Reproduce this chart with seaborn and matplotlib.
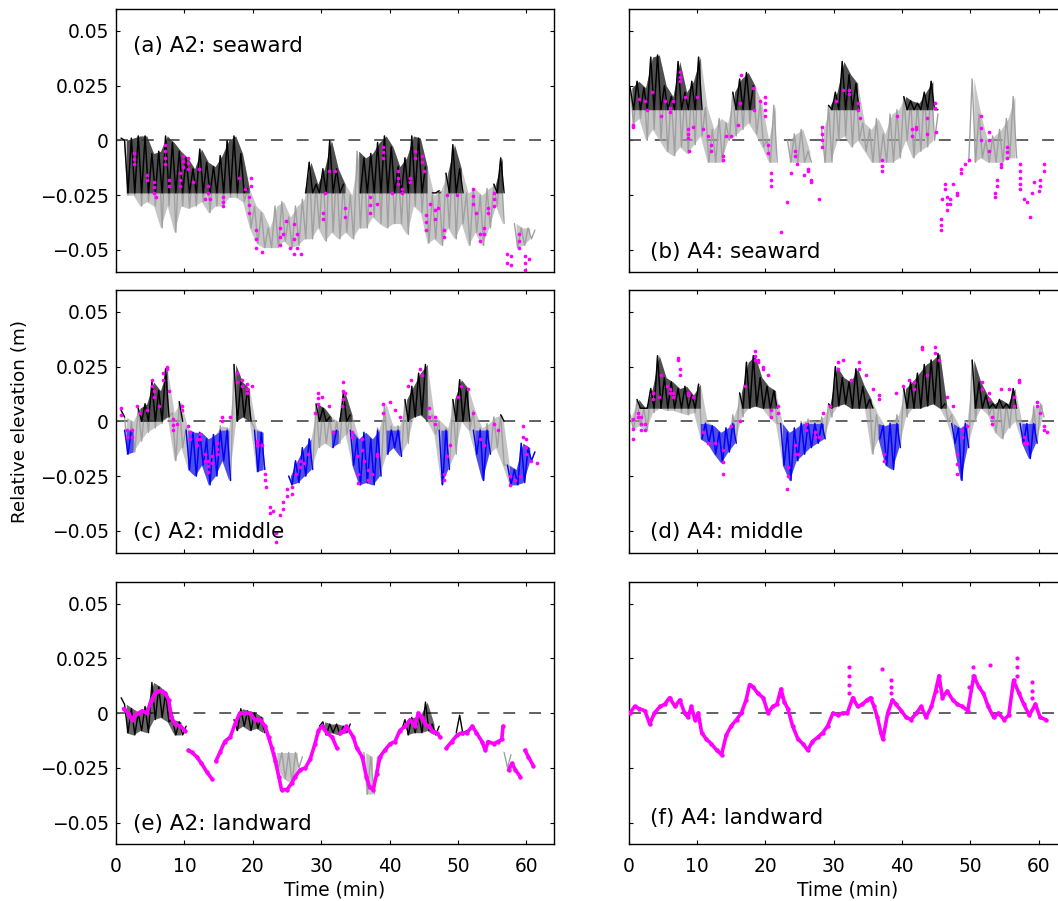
import numpy as np
import pandas as pd
import matplotlib
matplotlib.use("Agg")
import matplotlib.pyplot as plt
import seaborn as sns

nan = np.nan

# ---------------- data (elevations in mm, time in min) ----------------
# each series: per-minute [high, low] readings of the noisy record, minute 0..61
a_series = [[nan, 1], [0, -25], [1, -25], [2, -30], [2, -28], [-6, -30], [-5, -40], [2, -30],
            [-1, -42], [-5, -30], [-8, -31], [-13, -30], [-4, -28], [-10, -33], [-12, -30], [-7, -30],
            [0, -26], [2, -26], [-6, -28], [-22, -40], [-30, -47], [-33, -49], [-40, -49], [-30, -49],
            [-28, -46], [-35, -49], [-30, -48], [-27, -45], [-10, -45], [-20, -40], [-13, -46], [0, -42],
            [-13, -45], [-20, -42], [-25, -45], [-5, -40], [-8, -40], [-6, -35], [-1, -38], [2, -40],
            [-3, -38], [-12, -38], [-8, -43], [2, -30], [1, -33], [-12, -47], [-25, -45], [-23, -48],
            [-15, -40], [-2, -45], [-13, -38], [-24, -48], [-22, -42], [-25, -48], [-22, -40], [-20, -30],
            [-8, -38], [nan, nan], [-38, -49], [-40, -48], [-40, -45], [-41, nan]]
a_black_ranges = [(0.7, 19.3), (27.7, 33.6), (35.5, 45.3), (46.0, 47.3), (48.0, 51.0), (55.0, 57.0)]
a_black_floor = -24

b_series = [[24, 7], [27, 10], [24, 0], [38, 5], [39, 0], [25, -5], [20, -7], [36, -3],
            [22, -6], [27, -2], [38, 2], [15, -10], [5, -10], [10, -10], [8, 0], [22, 2],
            [28, 5], [31, 8], [25, 3], [17, -3], [0, -10], [16, -10], [nan, nan], [0, -10],
            [3, -10], [5, -10], [-5, -10], [nan, nan], [5, -10], [16, -10], [22, 0], [36, 2],
            [30, -3], [26, 0], [8, -5], [5, -10], [10, -10], [3, -10], [12, -10], [14, -8],
            [20, 0], [18, -8], [17, -5], [22, -3], [27, 0], [12, nan], [nan, nan], [nan, nan],
            [nan, nan], [nan, -10], [28, -10], [12, -8], [0, -10], [2, -10], [5, -10], [10, -8],
            [20, -8], [nan, nan], [nan, nan], [nan, nan], [nan, nan], [nan, nan]]
b_black_ranges = [(0.0, 10.9), (15.0, 18.6), (29.0, 34.0), (40.0, 45.3), (50.0, 50.5), (56.0, 56.5)]
b_black_floor = 14

c_series = [[nan, 5], [2, -15], [0, -14], [6, -9], [8, -5], [18, -3], [14, -1], [24, 2],
            [4, -18], [9, -12], [-3, -22], [-5, -25], [-5, -20], [-8, -29], [-6, -25], [-2, -18],
            [-3, -27], [26, 0], [18, 2], [15, 0], [-3, -23], [-5, -22], [nan, nan], [nan, nan],
            [nan, nan], [-25, -29], [-18, -28], [-12, -25], [-8, -22], [8, -12], [6, -10], [2, -12],
            [0, -10], [13, -6], [3, -20], [-8, -29], [-5, -28], [-8, -29], [-3, -25], [8, -15],
            [-2, -12], [-2, -16], [10, -10], [16, 2], [22, 3], [26, 0], [3, -6], [0, -29],
            [-3, -22], [10, -15], [19, 0], [15, -4], [5, -15], [-3, -27], [-1, -15], [2, -12],
            [3, -20], [-20, -29], [-22, -29], [-10, -28], [-12, -18], [-14, nan]]
c_black_ranges = [(0.5, 1.3), (2.8, 8.0), (8.8, 10.0), (16.9, 20.0), (28.9, 31.5), (32.5, 34.3),
                  (38.8, 39.6), (42.0, 45.5), (49.0, 52.0), (55.8, 57.0)]
c_black_floor = 0
c_blue_ranges = [(1.2, 2.5), (10.0, 16.8), (20.0, 22.0), (24.8, 29.0), (31.3, 32.5), (34.2, 38.8),
                 (39.6, 42.0), (47.0, 49.0), (52.2, 55.0), (56.8, 61.3)]
c_blue_ceiling = -4

d_series = [[3, -4], [10, -2], [6, -4], [15, 4], [30, 6], [20, 5], [18, 5], [15, 4],
            [16, 3], [12, 4], [17, -8], [0, -10], [-2, -15], [-5, -19], [-3, -14], [3, -10],
            [13, 2], [27, 6], [30, 7], [20, 6], [16, 2], [14, -1], [-1, -20], [-5, -27],
            [-3, -18], [0, -15], [1, -12], [0, -10], [2, -8], [8, 2], [25, 7], [20, 8],
            [18, 6], [24, 6], [16, 6], [10, -15], [3, -8], [-2, -20], [0, -22], [3, -12],
            [15, 2], [18, 6], [22, 6], [26, 7], [28, 8], [31, 6], [8, 0], [3, -10],
            [-3, -27], [0, -12], [28, 0], [18, 6], [12, 3], [8, -5], [10, -8], [8, -3],
            [15, 0], [0, -10], [-1, -17], [7, -10], [8, 2], [nan, nan]]
d_black_ranges = [(1.0, 10.5), (16.0, 21.9), (29.0, 35.8), (39.8, 46.3), (50.0, 57.0)]
d_black_floor = 6
d_blue_ranges = [(10.5, 15.8), (21.9, 29.0), (36.5, 39.9), (47.2, 50.0), (57.0, 59.9)]
d_blue_ceiling = -1

e_series = [[nan, 7], [4, -9], [2, -10], [0, -8], [3, -9], [14, -3], [12, -2], [9, -4],
            [-3, -10], [-4, -10], [-6, nan], [nan, nan], [nan, nan], [nan, nan], [nan, nan], [nan, nan],
            [nan, nan], [-3, -8], [2, -6], [1, -8], [0, -7], [-2, -9], [nan, nan], [-18, -25],
            [-18, -30], [-18, -32], [-18, -25], [-20, nan], [nan, nan], [nan, -6], [-4, -10], [-5, -9],
            [-5, -10], [-6, -9], [-5, nan], [nan, nan], [-18, -37], [-20, -37], [-20, nan], [nan, nan],
            [nan, nan], [nan, -8], [-3, -10], [-2, -9], [-1, -9], [5, -8], [-5, -10], [-6, nan],
            [nan, nan], [nan, -9], [-1, -10], [-8, nan], [nan, nan], [nan, nan], [nan, nan], [nan, nan],
            [nan, -18], [-25, -19], [nan, nan], [nan, nan], [nan, nan], [nan, nan]]
e_black_ranges = [(0.0, 22.5), (29.0, 35.0), (40.0, 52.0)]
e_gray_ranges = [(22.5, 29.0), (35.5, 39.5), (56.0, 59.0)]

# magenta detections (time min, elevation mm)
a_mag = [(2.6, -6), (2.6, -8.5), (2.6, -11), (4.5, -16), (4.5, -18), (5.6, -19), (5.6, -21.5), (5.6, -24),
         (5.9, -26), (7.1, -2), (7.1, -5), (7.1, -8), (7.1, -11), (7.8, -18), (7.8, -21), (9.3, -15),
         (9.3, -18), (9.3, -21), (9.8, -7), (9.8, -9.5), (9.8, -12), (10.6, -8), (10.6, -10.5), (10.6, -13),
         (11.3, -19), (12.1, -13), (13, -27), (13.5, -21), (13.5, -24), (13.8, -27), (15.7, -26), (15.7, -28),
         (15.7, -30), (18, -17), (18.9, -22), (19.4, -26), (19.4, -29.5), (19.4, -33), (19.7, -17), (19.7, -21),
         (20.5, -41), (20.5, -45), (20.5, -49), (21.4, -51), (24, -40), (24, -44), (24, -48), (24.4, -43),
         (24.9, -37), (25.5, -49), (26, -38), (26, -45), (26, -52), (26.4, -43), (26.4, -49), (27.1, -52),
         (30.2, -33), (30.2, -36), (30.6, -24), (31.1, -14), (32, -14), (33.5, -31), (33.5, -35), (37.1, -26),
         (37.1, -29.5), (37.1, -33), (38.2, -29), (39.1, -3), (39.1, -5.5), (39.1, -8), (40.3, -24), (41.3, -14),
         (41.3, -17), (41.3, -20), (41.8, -22), (41.8, -24), (43, -17), (43, -19), (43.7, -5), (43.7, -8),
         (44.7, -7), (44.7, -10), (45, -14), (45.4, -34), (45.4, -37.5), (45.4, -41), (45.9, -29), (46.6, -32),
         (46.6, -36), (47.1, -31), (47.9, -41), (47.9, -44), (48.4, -25), (49.8, -25), (52.2, -22), (52.2, -25.5),
         (52.2, -29), (52.7, -33), (53.2, -43), (53.2, -46), (53.8, -40), (53.8, -43), (54.4, -31), (54.4, -33),
         (55.2, -24), (55.2, -27), (55.2, -30), (57.1, -52), (57.1, -56), (57.8, -53), (57.8, -57), (58.9, -43),
         (58.9, -46), (58.9, -49), (59.8, -53), (59.8, -56), (59.8, -59), (60.4, -54)]
b_mag = [(0.6, 6), (0.7, 7), (1.6, 19), (2.4, 18), (2.7, 14), (3.5, 22), (4.8, 11), (5.3, 18),
         (6.1, 13), (6.1, 15), (6.5, 18), (7.5, 27), (7.5, 29), (7.5, 31), (8.2, 20), (8.7, 1),
         (8.7, 3), (8.7, 5), (8.9, -5), (9.4, 6), (10, 20), (10.9, 5), (11.6, 2), (12.1, -2),
         (12.1, -5), (13.8, -7), (13.8, -9), (14.2, 2), (15, 2), (16, 7), (16.3, 17), (16.5, 30),
         (18.2, 24), (18.4, 14), (19.2, 18), (19.9, 11), (19.9, 14), (19.9, 17), (19.9, 20), (20.4, -2),
         (20.4, -6), (20.8, -15), (20.8, -18), (20.8, -21), (22.3, -42), (23.2, -28), (23.8, -15), (24.3, -5),
         (24.3, -7), (24.6, -11), (25.7, -16), (26.2, -13), (26.2, -14), (26.7, -18), (26.7, -19), (27.8, -27),
         (28.3, 6), (28.3, 3), (28.3, 0), (28.3, -3), (30.4, 18), (31.3, 23), (32.3, 21), (32.3, 23),
         (33.6, 14), (33.6, 17), (33.8, 10), (37, -9), (37, -11.5), (37, -14), (39.2, 11), (41.4, 2),
         (41.4, 5), (42, 5), (42, 6), (43.7, 10), (43.7, 3), (44.8, 15), (44.8, 17), (45, 4),
         (45.7, -36), (45.7, -38.5), (45.7, -41), (45.9, -27), (46.3, -20), (46.3, -22), (46.6, -26), (46.6, -29),
         (46.6, -32), (47, -27), (47, -29), (47.5, -20), (48.1, -24), (48.1, -25), (48.6, -13), (48.6, -15),
         (49.2, -11), (49.8, -9), (51.6, 0), (51.6, 5.5), (51.6, 11), (52.7, -5), (52.7, 0), (52.7, 4),
         (53.6, -24), (53.6, -26), (53.9, -18), (53.9, -21), (54.5, -11), (54.5, -12), (55.4, -3), (55.4, -5.5),
         (55.4, -8), (57.3, -11), (57.3, -14), (57.3, -17), (57.3, -20), (57.3, -22), (57.8, -27), (58.3, -28),
         (58.7, -35), (59, -24), (59.3, -19), (60, -23), (60.2, -18), (60.2, -21), (60.7, -11), (60.7, -14)]
c_mag = [(0.8, 3), (0.8, 6), (1.6, -4), (1.6, -7), (2.3, -4), (2.3, -7), (3, 7), (3.5, 4),
         (4.5, 5), (5.2, 16), (5.2, 19), (5.6, 11), (5.6, 14), (6.3, 7), (6.9, 19), (6.9, 22),
         (7.4, 24), (7.4, 25), (7.8, 14), (8.3, 1), (8.3, -1.5), (8.3, -4), (8.9, -1), (9.6, 5),
         (9.6, 7), (10.6, -2), (10.8, -5), (10.8, -8), (11.8, -8), (11.8, -11), (12.3, -6), (12.3, -8),
         (13, -15), (13, -18), (13.5, -18), (13.5, -20.5), (13.5, -23), (14, -16), (14, -19), (14.7, -10),
         (14.7, -12.5), (14.7, -15), (15.5, 0), (15.5, 2), (16.7, 2), (17.7, 18), (17.7, 22), (18.4, 16),
         (18.4, 19), (19.1, 13), (19.1, 15), (19.1, 17), (19.9, 16), (20.6, -9), (20.6, -11), (21.3, -11),
         (21.8, -24), (21.8, -27), (22, -30), (22.5, -39), (22.5, -42), (23, -41), (23.4, -51), (23.4, -55),
         (24, -43), (24.4, -37), (24.4, -40), (25, -31), (25, -34), (25.7, -30), (25.7, -33), (26.3, -24),
         (26.9, -18), (26.9, -21), (27.5, -19), (28.1, -15), (29.1, 4), (29.6, 8), (29.6, 10.5), (29.6, 13),
         (30.1, 11), (31.1, 7), (31.8, -5), (33, 7), (33.5, 13), (33.2, 10), (33.2, 14), (33.2, 18),
         (34.5, -5), (34.5, -7), (35.2, -16), (35.4, -24), (35.4, -28), (35.9, -8), (35.9, -13), (36.2, -18),
         (36.9, -22), (36.9, -27), (37.4, -24), (38.1, -15), (38.1, -16), (39.1, 4), (39.1, 8), (40.1, 9),
         (40.8, 5), (41.5, 2), (42.7, 16), (43.2, 19), (44.4, 24), (44.7, 21), (45.7, 2), (45.7, 6),
         (46.6, -1), (46.6, 2), (47.9, -24), (47.9, -27), (48.4, -16), (48.8, -11), (50, 11), (50.5, 16),
         (51.5, 15), (52.2, 4), (53.2, -8), (53.8, -11), (55.2, -1), (55.9, -4), (57.6, -25), (57.6, -29),
         (58.3, -27), (59, -25), (59.5, -2), (59.5, -7), (60, -8), (60, -11.5), (60, -15), (60.7, -18),
         (61.5, -19)]
d_mag = [(0.7, 1), (0.7, -3.5), (0.7, -8), (1.4, 2), (1.4, 4), (1.9, 2), (1.9, -1), (1.9, -4),
         (2.4, -1), (2.4, -4), (3.6, 10), (3.6, 13), (4.4, 11), (4.8, 21), (5.6, 16), (6, 13),
         (6, 15), (6.5, 11), (6.5, 13), (7.3, 28), (7.3, 29), (7.5, 21), (7.5, 24), (8.7, 12),
         (8.7, 13), (9.4, 11), (10.9, -5), (11.6, -10), (12.6, -10), (13.8, -13), (13.8, -18.5), (13.8, -24),
         (15, -2), (16.3, 0), (17, 16), (18.5, 28), (18.5, 30), (18.5, 32), (18.9, 27), (18.9, 28),
         (19.7, 24), (19.7, 25), (20.4, 21), (20.9, 2), (20.9, 5), (21.8, 4), (21.8, 7), (23.3, -21),
         (23.3, -25), (23.2, -31), (24.3, -11), (24.3, -15), (24.8, -15), (26, -1), (26, -4), (27.2, -5),
         (27.2, -7), (27.9, -7), (28.4, 4), (29.4, 7), (30.6, 24), (30.6, 27), (31.3, 28), (32.5, 19),
         (33.7, 24), (33.7, 27), (34.7, 21), (35.7, 15), (36.7, 10), (36.7, 12), (37.4, -15), (37.4, -18),
         (39.1, 13), (40.1, 16), (41, 19), (41.8, 15), (41.8, 18), (42.9, 33), (42.9, 34), (43.7, 21),
         (44.8, 31), (44.8, 34), (45.4, 28), (46.6, 11), (47.4, 7), (48.1, -15), (48.1, -19.5), (48.1, -24),
         (48.8, -4), (48.8, -7), (49.5, -2), (51.7, 15), (51.7, 18), (52.7, 10), (52.7, 13), (53.2, 2),
         (53.2, -1), (54.4, 15), (55.6, 15), (56.3, 7), (56.3, 11), (57.1, 18), (57.1, 19), (57.8, -7),
         (57.8, -10), (58.3, -10), (59.7, 7), (59.7, 9), (60.2, 4), (60.7, -2), (60.7, -4), (61.2, -5)]

# magenta trails (nan = break in the record)
e_trail = [(1.1, 2), (1.8, 0), (2.3, -3), (2.8, -1), (3.3, 0), (3.8, 1), (4.5, 0), (5.2, 6), (5.7, 9),
           (6.2, 10), (6.7, 10), (7.2, 9), (7.7, 6), (8.1, -2), (8.6, -5), (9.4, -6), (10.1, -8), (nan, nan),
           (10.6, -17), (11.1, -18), (11.8, -20), (12.5, -23), (13.3, -27), (14.0, -30), (nan, nan),
           (14.6, -22), (15.2, -18), (15.9, -13), (16.7, -11), (17.4, -5), (18.1, 0), (18.9, 0), (19.6, 0),
           (20.3, -3), (21.1, -3), (21.8, -6), (22.3, -11), (22.8, -16), (23.3, -22), (23.8, -29), (24.2, -35),
           (25.0, -35), (25.7, -32), (26.2, -29), (26.9, -26), (27.7, -25), (28.4, -21), (29.1, -14),
           (29.6, -8), (30.1, -6), (30.8, -9), (31.6, -11), (32.3, -16), (nan, nan),
           (32.8, -9), (33.3, -8), (33.7, -6), (34.7, -11), (35.2, -16), (36.0, -20), (36.6, -29), (37.1, -34),
           (37.6, -35), (38.1, -28), (38.6, -20), (39.3, -17), (40.1, -14), (40.8, -13), (41.5, -8), (42.3, -6),
           (43.0, -3), (43.7, -6), (44.2, 0), (44.7, -2), (45.2, -5), (45.7, -6), (46.2, -8), (46.9, -9),
           (47.4, -11), (nan, nan),
           (48.3, -16), (49.1, -13), (49.9, -10), (50.6, -9), (51.3, -9), (52.1, -6), (52.7, -9), (53.5, -13),
           (54.0, -17), (54.4, -13), (55.2, -14), (55.9, -13), (56.4, -12), (56.6, -6), (nan, nan),
           (57.4, -26), (57.9, -23), (58.4, -26), (59.1, -29), (nan, nan),
           (59.8, -17), (60.3, -20), (61.0, -24)]
f_trail = [(0.2, 0), (0.9, 3), (1.6, 2), (2.4, 1), (3.1, -5), (3.8, 0), (4.6, 3), (5.3, 4), (6.0, 7),
           (6.8, 3), (7.5, 6), (8.2, 0), (8.7, -2), (9.2, 3), (9.7, -3), (10.2, 0), (10.7, -9), (11.4, -12),
           (12.1, -14), (12.9, -17), (13.6, -19), (14.3, -10), (15.0, -6), (15.8, -3), (16.5, 0), (17.2, 6),
           (17.7, 13), (18.2, 12), (18.9, 9), (19.7, 7), (20.4, 0), (21.1, 3), (21.7, 4), (22.3, 11),
           (22.8, 5), (23.3, 2), (24.0, -6), (24.8, -12), (25.5, -14), (26.2, -17), (26.9, -13), (27.7, -11),
           (28.4, -9), (29.1, -6), (29.9, 0), (30.6, -1), (31.3, 0), (32.0, 0), (32.8, 7), (33.5, 3),
           (34.2, 4), (34.9, 6), (35.4, 7), (35.9, 3), (36.4, -2), (36.9, -9), (37.2, -12), (37.9, 0),
           (38.6, 6), (39.1, 4), (39.9, 1), (40.6, -2), (41.3, -3), (42.1, 0), (42.8, 3), (43.5, -2),
           (44.3, 3), (44.9, 10), (45.4, 17), (45.9, 7), (46.6, 10), (47.4, 6), (48.1, 4), (48.8, 3),
           (49.6, 1), (50.5, 17), (51.2, 12), (51.9, 9), (52.6, 3), (53.4, -2), (54.1, 0), (54.9, -3),
           (55.6, -1), (56.3, 15), (57.1, 9), (57.8, 4), (58.6, -1), (59.5, 4), (60.2, -2), (61.0, -3)]
f_mag = [(32.3, 21), (32.3, 17), (32.3, 13), (32.3, 9), (37.1, 20), (38.4, 15), (38.4, 12), (38.4, 9),
         (49.8, 12), (50.3, 21), (50.3, 17), (52.9, 22), (56.8, 25), (56.8, 21), (56.8, 17),
         (59.0, 14), (59.0, 10), (59.0, 7), (45.4, 13), (22.3, 8)]

panel_labels = ["(a) A2: seaward", "(b) A4: seaward", "(c) A2: middle",
                "(d) A4: middle", "(e) A2: landward", "(f) A4: landward"]
ytick_vals = [-0.05, -0.025, 0, 0.025, 0.05]
ytick_text = ["\u22120.05", "\u22120.025", "0", "0.025", "0.05"]
xtick_vals = [0, 10, 20, 30, 40, 50, 60]

# ---------------- style ----------------
sns.set_theme(style="ticks")
plt.rcParams["font.family"] = ["DejaVu Sans"]
plt.rcParams["text.color"] = "black"
plt.rcParams["axes.labelcolor"] = "black"
GRAY, BLACK, BLUE, MAG = "#a0a0a0", "#000000", "#0000ff", "#ff00ff"
LW = 1.0
BAND_ALPHA = 0.6

fig = plt.figure(figsize=(10.58, 9.01), dpi=100)
W, H = 1058.0, 901.0
col_x = [116 / W, 628.5 / W]
row_top = [9.0, 290.0, 581.7]
aw, ah = 437.7 / W, 262.7 / H


def zigzag(pairs):
    v = np.array(pairs, dtype=float).ravel() / 1000.0
    t = np.arange(len(v)) * 0.5 + 0.25
    return t, v


def to_df(t, v, ranges):
    ts, vs, ss = [], [], []
    sid = 0
    for a, b in ranges:
        prev_gap = True
        for ti, vi in zip(t, v):
            if ti < a or ti > b:
                continue
            if np.isnan(vi) or np.isnan(ti):
                prev_gap = True
                continue
            if prev_gap:
                sid += 1
                prev_gap = False
            ts.append(ti); vs.append(vi); ss.append(sid)
    return pd.DataFrame({"t": ts, "v": vs, "seg": ss})


def draw_line(ax, df, color, lw=LW, z=2, **kw):
    if len(df):
        sns.lineplot(data=df, x="t", y="v", units="seg", estimator=None, color=color,
                     lw=lw, ax=ax, legend=False, zorder=z, **kw)


def draw_band(ax, pairs, ranges, color, floor=None, ceiling=None, z=2):
    p = np.array(pairs, dtype=float) / 1000.0
    hi, lo = p[:, 0].copy(), p[:, 1].copy()
    if floor is not None:
        hi, lo = np.maximum(hi, floor), np.maximum(lo, floor)
    if ceiling is not None:
        hi, lo = np.minimum(hi, ceiling), np.minimum(lo, ceiling)
    tm = np.arange(len(p)) + 0.5
    ok = ~np.isnan(hi) & ~np.isnan(lo)
    for a, b in ranges:
        m = ok & (tm >= a - 0.25) & (tm <= b + 0.25)
        idx = np.where(m)[0]
        if len(idx) < 2:
            continue
        runs = np.split(idx, np.where(np.diff(idx) > 1)[0] + 1)
        for run in runs:
            if len(run) >= 2:
                ax.fill_between(tm[run], lo[run], hi[run], color=color, lw=0,
                                alpha=BAND_ALPHA, zorder=z)


def layer(ax, pairs, ranges, color, floor=None, ceiling=None, z=2):
    draw_band(ax, pairs, ranges, color, floor, ceiling, z)
    t, v = zigzag(pairs)
    if floor is not None:
        v = np.maximum(v, floor)
    if ceiling is not None:
        v = np.minimum(v, ceiling)
    draw_line(ax, to_df(t, v, ranges), color, z=z + 0.1)


def draw_dots(ax, pts, s=7):
    p = np.array(pts, dtype=float)
    sns.scatterplot(x=p[:, 0], y=p[:, 1] / 1000.0, ax=ax, color=MAG, s=s, marker="o",
                    linewidth=0, zorder=6, legend=False)


def trail(ax, pts):
    p = np.array(pts, dtype=float)
    df = to_df(p[:, 0], p[:, 1] / 1000.0, [(0, 64)])
    draw_line(ax, df, MAG, lw=2.6, z=6, marker="o", markersize=3.2, markeredgewidth=0)


axes = []
for r in range(3):
    for c in range(2):
        y0 = 1 - (row_top[r] + 262.7) / H
        ax = fig.add_axes([col_x[c], y0, aw, ah])
        axes.append(ax)

full = [(0, 64)]
# (a)
layer(axes[0], a_series, full, GRAY)
layer(axes[0], a_series, a_black_ranges, BLACK, floor=a_black_floor / 1000, z=3)
draw_dots(axes[0], a_mag)
# (b)
layer(axes[1], b_series, full, GRAY)
layer(axes[1], b_series, b_black_ranges, BLACK, floor=b_black_floor / 1000, z=3)
draw_dots(axes[1], b_mag)
# (c)
layer(axes[2], c_series, full, GRAY)
layer(axes[2], c_series, c_black_ranges, BLACK, floor=c_black_floor / 1000, z=3)
layer(axes[2], c_series, c_blue_ranges, BLUE, ceiling=c_blue_ceiling / 1000, z=3)
draw_dots(axes[2], c_mag)
# (d)
layer(axes[3], d_series, full, GRAY)
layer(axes[3], d_series, d_black_ranges, BLACK, floor=d_black_floor / 1000, z=3)
layer(axes[3], d_series, d_blue_ranges, BLUE, ceiling=d_blue_ceiling / 1000, z=3)
draw_dots(axes[3], d_mag)
# (e)
layer(axes[4], e_series, e_gray_ranges, GRAY)
layer(axes[4], e_series, e_black_ranges, BLACK, z=3)
trail(axes[4], e_trail)
# (f)
trail(axes[5], f_trail)
draw_dots(axes[5], f_mag, s=9)

label_pos = [(0.0395, 0.835), (0.049, 0.051), (0.0395, 0.055),
             (0.049, 0.055), (0.0395, 0.053), (0.049, 0.079)]

for i, ax in enumerate(axes):
    r, c = divmod(i, 2)
    ax.axhline(0, color="#555555", lw=1.3, ls=(0, (6.6, 7.7)), zorder=1)
    ax.set_xlim(0, 64)
    ax.set_ylim(-0.06, 0.06)
    ax.set_xticks(xtick_vals)
    ax.set_yticks(ytick_vals)
    if c == 0:
        ax.set_yticklabels(ytick_text)
    else:
        ax.set_yticklabels([])
    if r == 2:
        ax.set_xticklabels([str(x) for x in xtick_vals])
        ax.set_xlabel("Time (min)", fontsize=13.4, labelpad=3, color="black")
    else:
        ax.set_xticklabels([])
        ax.set_xlabel("")
    ax.set_ylabel("")
    ax.tick_params(axis="both", direction="in", length=3.1, width=0.8, top=True, right=True,
                   labelsize=13.4, colors="black")
    ax.tick_params(axis="x", pad=9.3)
    ax.tick_params(axis="y", pad=5)
    for sp in ax.spines.values():
        sp.set_visible(True)
        sp.set_linewidth(1.0)
        sp.set_color("black")
    ax.set_facecolor("white")
    lx, ly = label_pos[i]
    ax.text(lx, ly, panel_labels[i], transform=ax.transAxes, fontsize=15.5,
            ha="left", va="baseline", zorder=10, color="black")

fig.text(20 / W, 1 - 421.7 / H, "Relative elevation (m)", rotation=90,
         ha="center", va="center", fontsize=13.2, color="black")

fig.savefig("out.png", dpi=100, facecolor="white")
